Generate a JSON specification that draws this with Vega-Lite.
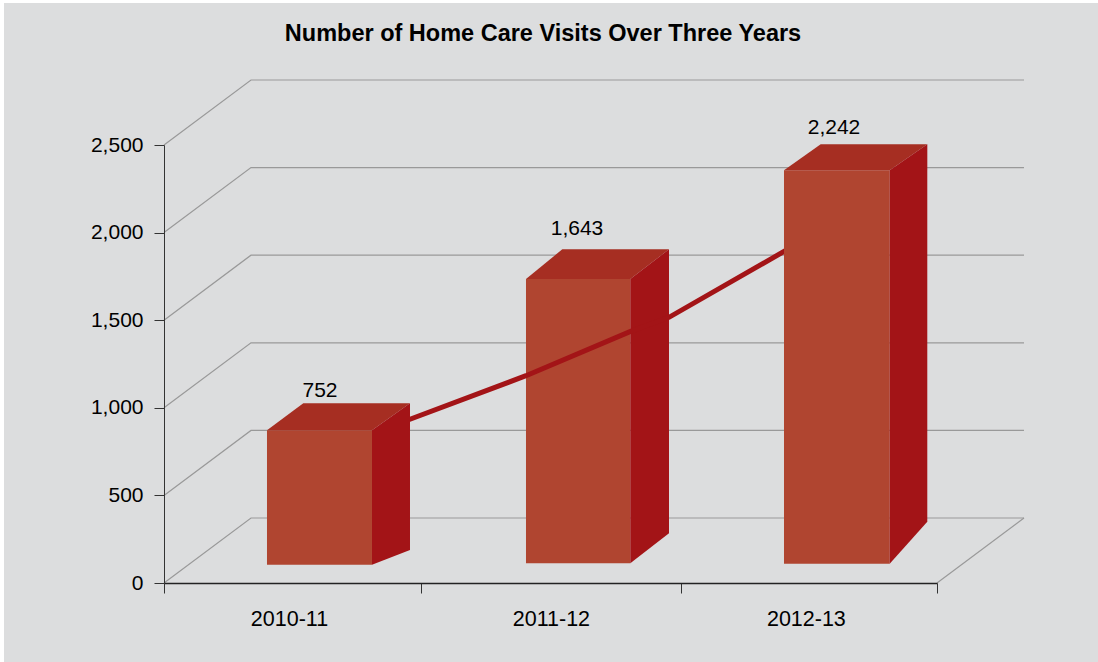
{
"$schema":"https://vega.github.io/schema/vega-lite/v6.json",
"width":860,"height":503,
"autosize":"none",
"padding":{"left":164,"top":80,"right":74,"bottom":79},
"background":"#ffffff",
"config":{"view":{"stroke":null},"font":"Liberation Sans"},
"title":{"text":"Number of Home Care Visits Over Three Years","font":"Liberation Sans","fontSize":23.5,"fontWeight":"bold","color":"#000000","anchor":"middle","frame":"group","dx":-51,"offset":-42},
"datasets":{
"panel":[{"left":-0.6209,"right":3.6249,"low":-450.9,"high":3310.5}],
"walls":[
{"level":"0","x":0,"y":0},{"level":"0","x":0.3376,"y":371},{"level":"0","x":3.3376,"y":371},
{"level":"floor","x":3,"y":0},{"level":"floor","x":3.3376,"y":371},
{"level":"500","x":0,"y":500},{"level":"500","x":0.3376,"y":871},{"level":"500","x":3.3376,"y":871},
{"level":"1000","x":0,"y":1000},{"level":"1000","x":0.3376,"y":1371},{"level":"1000","x":3.3376,"y":1371},
{"level":"1500","x":0,"y":1500},{"level":"1500","x":0.3376,"y":1871},{"level":"1500","x":3.3376,"y":1871},
{"level":"2000","x":0,"y":2000},{"level":"2000","x":0.3376,"y":2371},{"level":"2000","x":3.3376,"y":2371},
{"level":"2500","x":0,"y":2500},{"level":"2500","x":0.3376,"y":2871},{"level":"2500","x":3.3376,"y":2871}
],
"fronts":[
{"year":"2010-11","left":0.3997,"right":0.8072,"top":871.6,"base":104.5},
{"year":"2011-12","left":1.4049,"right":1.8097,"top":1735.2,"base":112.4},
{"year":"2012-13","left":2.4062,"right":2.8164,"top":2355.6,"base":110.2}
],
"tops":[
{"year":"2010-11","y":871.6,"left":0.3997,"right":0.8072},{"year":"2010-11","y":1025.7,"left":0.5406,"right":0.9547},
{"year":"2011-12","y":1735.2,"left":1.4049,"right":1.8097},{"year":"2011-12","y":1904.7,"left":1.5458,"right":1.9599},
{"year":"2012-13","y":2355.6,"left":2.4062,"right":2.8164},{"year":"2012-13","y":2504,"left":2.5486,"right":2.9623}
],
"sides":[
{"year":"2010-11","x":0.8072,"top":871.6,"base":104.5},{"year":"2010-11","x":0.9547,"top":1025.7,"base":188.4},
{"year":"2011-12","x":1.8097,"top":1735.2,"base":112.4},{"year":"2011-12","x":1.9599,"top":1904.7,"base":283.7},
{"year":"2012-13","x":2.8164,"top":2355.6,"base":110.2},{"year":"2012-13","x":2.9623,"top":2504,"base":349.9}
],
"trend":[
{"x":0.9159,"y":913.2},{"x":1.4049,"y":1183.2},{"x":1.8085,"y":1434.4},{"x":1.9599,"y":1516.5},{"x":2.4295,"y":1912}
],
"labels":[
{"year":"2010-11","value":752,"x":0.6054,"y":1095.9},
{"year":"2011-12","value":1643,"x":1.6028,"y":2020.5},
{"year":"2012-13","value":2242,"x":2.6002,"y":2597}
]
},
"layer":[
{"data":{"name":"panel"},"mark":{"type":"rect","color":"#dcddde","clip":false},
 "encoding":{
  "x":{"field":"left","type":"quantitative","title":null,"scale":{"domain":[0,3],"range":[0,773],"nice":false,"zero":false},
    "axis":{"values":[0,0.997,2.006,3],"grid":false,"zindex":1,"tickSize":10,"tickColor":"#333333","domainColor":"#222222","domainWidth":1.5,"labelFont":"Liberation Sans","labelFontSize":21.5,"labelColor":"#000000","labelPadding":15,"labelOffset":{"expr":"datum.value<0.5?125:datum.value<1.5?130:125"},"labelAngle":0,"labelAlign":"center","labelFlush":false,"labelOverlap":false,"labelBound":false,"labelExpr":"datum.value<0.5?'2010-11':datum.value<1.5?'2011-12':datum.value<2.5?'2012-13':''"}},
  "x2":{"field":"right"},
  "y":{"field":"low","type":"quantitative","title":null,"scale":{"domain":[0,2500],"range":[503,65],"nice":false,"zero":false},
    "axis":{"values":[0,500,1000,1500,2000,2500],"labelExpr":"format(datum.value,',')","grid":false,"zindex":1,"tickSize":10,"tickColor":"#333333","domainColor":"#333333","domainWidth":1,"labelFont":"Liberation Sans","labelFontSize":21,"labelColor":"#000000","labelPadding":11,"labelBound":false,"labelFlush":false,"labelOverlap":false}},
  "y2":{"field":"high"}}},
{"data":{"name":"walls"},"mark":{"type":"line","color":"#999999","strokeWidth":1.2,"clip":false},
 "encoding":{"x":{"field":"x","type":"quantitative"},"y":{"field":"y","type":"quantitative"},"detail":{"field":"level"}}},
{"data":{"name":"fronts"},"transform":[{"filter":"datum.year==='2011-12'"}],"mark":{"type":"rect","color":"#b04530"},
 "encoding":{"x":{"field":"left","type":"quantitative"},"x2":{"field":"right"},"y":{"field":"top","type":"quantitative"},"y2":{"field":"base"}}},
{"data":{"name":"tops"},"transform":[{"filter":"datum.year==='2011-12'"}],"mark":{"type":"area","color":"#a62e22","orient":"horizontal"},
 "encoding":{"y":{"field":"y","type":"quantitative","stack":null},"x":{"field":"left","type":"quantitative","stack":null},"x2":{"field":"right"}}},
{"data":{"name":"sides"},"transform":[{"filter":"datum.year==='2011-12'"}],"mark":{"type":"area","color":"#a31417","orient":"vertical"},
 "encoding":{"x":{"field":"x","type":"quantitative"},"y":{"field":"top","type":"quantitative","stack":null},"y2":{"field":"base"}}},
{"data":{"name":"trend"},"mark":{"type":"line","color":"#a31417","strokeWidth":5},
 "encoding":{"x":{"field":"x","type":"quantitative"},"y":{"field":"y","type":"quantitative"}}},
{"data":{"name":"fronts"},"transform":[{"filter":"datum.year!=='2011-12'"}],"mark":{"type":"rect","color":"#b04530"},
 "encoding":{"x":{"field":"left","type":"quantitative"},"x2":{"field":"right"},"y":{"field":"top","type":"quantitative"},"y2":{"field":"base"}}},
{"data":{"name":"tops"},"transform":[{"filter":"datum.year!=='2011-12'"}],"mark":{"type":"area","color":"#a62e22","orient":"horizontal"},
 "encoding":{"y":{"field":"y","type":"quantitative","stack":null},"x":{"field":"left","type":"quantitative","stack":null},"x2":{"field":"right"},"detail":{"field":"year"}}},
{"data":{"name":"sides"},"transform":[{"filter":"datum.year!=='2011-12'"}],"mark":{"type":"area","color":"#a31417","orient":"vertical"},
 "encoding":{"x":{"field":"x","type":"quantitative"},"y":{"field":"top","type":"quantitative","stack":null},"y2":{"field":"base"},"detail":{"field":"year"}}},
{"data":{"name":"labels"},"mark":{"type":"text","font":"Liberation Sans","fontSize":21,"color":"#000000","baseline":"middle","align":"center"},
 "encoding":{"x":{"field":"x","type":"quantitative"},"y":{"field":"y","type":"quantitative"},"text":{"field":"value","type":"quantitative","format":","}}}
]
}
